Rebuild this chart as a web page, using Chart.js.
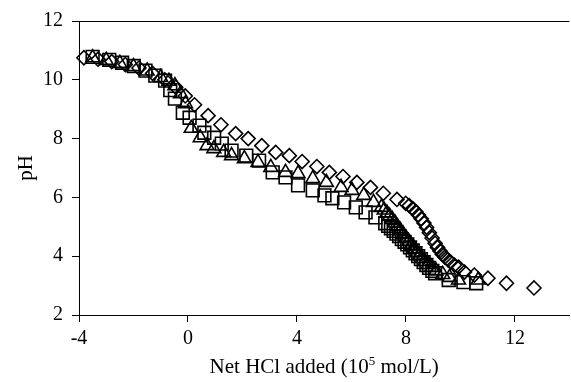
<!DOCTYPE html>
<html>
<head>
<meta charset="utf-8">
<script src="https://cdn.jsdelivr.net/npm/chart.js@4/dist/chart.umd.min.js"></script>
<style>
  html, body { margin: 0; padding: 0; background: #fff; overflow: hidden; }
  #canvas1 { width: 580px; height: 382px; }
</style>
</head>
<body>
<div id="canvas1"><canvas id="Graphique" width="580" height="382"></canvas></div>
<script>
/*
  Courbes de titrage : pH en fonction du HCl net ajouté (3 séries)
*/

// serie 1 : losanges
var diamondX = [-3.82, -3.3, -2.8, -2.3, -1.8, -1.3, -0.85, -0.45, -0.1, 0.24, 0.74, 1.21, 1.75, 2.21, 2.71, 3.22,
    3.72, 4.19, 4.73, 5.19, 5.69, 6.20, 6.70, 7.17, 7.67, 7.99, 8.12, 8.25, 8.36, 8.46, 8.56, 8.66, 8.76, 8.86, 8.96,
    9.07, 9.16, 9.25, 9.34, 9.43, 9.54, 9.64, 9.78, 9.93, 10.15, 10.51, 11.01, 11.69, 12.70];
var diamondY = [10.75, 10.7, 10.62, 10.52, 10.4, 10.22, 10.0, 9.75, 9.45, 9.15, 8.78, 8.47, 8.17, 8.0, 7.76, 7.53,
    7.42, 7.22, 7.05, 6.85, 6.71, 6.51, 6.34, 6.14, 5.93, 5.80, 5.72, 5.62, 5.52, 5.40, 5.27, 5.13, 4.98, 4.80, 4.62,
    4.44, 4.30, 4.18, 4.06, 3.97, 3.88, 3.80, 3.70, 3.63, 3.46, 3.36, 3.25, 3.08, 2.92];

// serie 2 : carrés
var squareX = [-3.5, -2.89, -2.42, -1.99, -1.56, -1.20, -0.84, -0.65, -0.48, -0.19, 0.06, 0.42, 0.60, 0.96, 1.24,
    1.60, 2.14, 2.61, 3.11, 3.58, 4.04, 4.58, 5.01, 5.30, 5.73, 6.16, 6.52, 6.88, 7.24, 7.35, 7.45, 7.55, 7.65, 7.75,
    7.85, 7.95, 8.05, 8.15, 8.25, 8.35, 8.45, 8.55, 8.65, 8.75, 8.85, 8.97, 9.07, 9.57, 10.11, 10.58];
var squareY = [10.78, 10.68, 10.58, 10.47, 10.31, 10.14, 9.97, 9.65, 9.36, 8.88, 8.71, 8.44, 8.20, 8.03, 7.83,
    7.59, 7.42, 7.25, 6.85, 6.68, 6.41, 6.24, 6.07, 5.97, 5.83, 5.66, 5.49, 5.32, 5.12, 5.03, 4.95, 4.86, 4.77, 4.68,
    4.58, 4.49, 4.40, 4.30, 4.20, 4.10, 4.00, 3.90, 3.80, 3.70, 3.60, 3.50, 3.42, 3.19, 3.12, 3.08];

// serie 3 : triangles
var triangleX = [-3.5, -3.0, -2.5, -2.0, -1.5, -1.0, -0.7, -0.48, -0.27, -0.09, 0.12, 0.45, 0.70, 0.95, 1.31, 1.6,
    2.07, 2.57, 3.04, 3.58, 4.04, 4.58, 5.08, 5.62, 6.02, 6.45, 6.81, 7.10, 7.2, 7.3, 7.4, 7.5, 7.6, 7.7, 7.8, 7.9,
    8.0, 8.1, 8.2, 8.3, 8.4, 8.5, 8.6, 8.7, 8.82, 8.95, 9.1, 9.35, 9.6, 9.93, 10.65];
var triangleY = [10.75, 10.66, 10.56, 10.45, 10.3, 10.08, 9.95, 9.80, 9.53, 9.19, 8.35, 8.03, 7.76, 7.66, 7.53, 7.42,
    7.32, 7.19, 7.02, 6.85, 6.81, 6.64, 6.51, 6.34, 6.24, 6.07, 5.83, 5.66, 5.57, 5.47, 5.36, 5.25, 5.13, 5.0, 4.88, 4.75,
    4.62, 4.50, 4.37, 4.25, 4.13, 4.02, 3.92, 3.82, 3.72, 3.62, 3.50, 3.38, 3.28, 3.19, 3.19];

// graduations
var xTicks = [-4, 0, 4, 8, 12];
var yTicks = [2, 4, 6, 8, 10, 12];

var policeTexte = "'Liberation Serif', 'Times New Roman', serif";

function points(xs, ys) {
    var res = [];
    for (var i = 0; i < xs.length; i++) {
        res.push({ x: xs[i], y: ys[i] });
    }
    return res;
}

// bordure du haut + titre de l'axe x avec l'exposant
var decor = {
    id: 'decor',
    afterDraw: function (chart) {
        var ctx = chart.ctx;
        var a = chart.chartArea;
        ctx.save();
        ctx.strokeStyle = '#000';
        ctx.lineWidth = 1;
        ctx.beginPath();
        ctx.moveTo(a.left, a.top + 0.5);
        ctx.lineTo(a.right, a.top + 0.5);
        ctx.stroke();

        var t1 = 'Net HCl added (10';
        var t2 = '5';
        var t3 = ' mol/L)';
        ctx.fillStyle = '#000';
        ctx.textBaseline = 'alphabetic';
        ctx.font = '21px ' + policeTexte;
        var w1 = ctx.measureText(t1).width;
        var w3 = ctx.measureText(t3).width;
        ctx.font = '13px ' + policeTexte;
        var w2 = ctx.measureText(t2).width;
        var x0 = (a.left + a.right) / 2 - (w1 + w2 + w3) / 2;
        var yb = 373;
        ctx.font = '21px ' + policeTexte;
        ctx.fillText(t1, x0, yb);
        ctx.font = '13px ' + policeTexte;
        ctx.fillText(t2, x0 + w1, yb - 8);
        ctx.font = '21px ' + policeTexte;
        ctx.fillText(t3, x0 + w1 + w2, yb);
        ctx.restore();
    }
};

var data = {
    datasets: [{
        label: 'serie 1',
        data: points(diamondX, diamondY),
        pointStyle: 'rectRot',
        pointRadius: 7,
        borderColor: '#000',
        backgroundColor: 'rgba(0,0,0,0)',
        borderWidth: 1.6,
        clip: false
    }, {
        label: 'serie 2',
        data: points(squareX, squareY),
        pointStyle: 'rect',
        pointRadius: 9,
        borderColor: '#000',
        backgroundColor: 'rgba(0,0,0,0)',
        borderWidth: 1.6,
        clip: false
    }, {
        label: 'serie 3',
        data: points(triangleX, triangleY),
        pointStyle: 'triangle',
        pointRadius: 8,
        borderColor: '#000',
        backgroundColor: 'rgba(0,0,0,0)',
        borderWidth: 1.6,
        clip: false
    }]
};

var option = {
    responsive: false,
    devicePixelRatio: 1,
    animation: false,
    layout: {
        padding: { top: 20, right: 0, bottom: 0, left: 0 }
    },
    plugins: {
        legend: { display: false },
        tooltip: { enabled: false }
    },
    scales: {
        x: {
            type: 'linear',
            min: -4,
            max: 14,
            afterBuildTicks: function (axis) {
                axis.ticks = xTicks.map(function (v) { return { value: v }; });
            },
            afterFit: function (scale) { scale.height = 67; },
            ticks: {
                color: '#000',
                padding: 5,
                maxRotation: 0,
                font: { family: policeTexte, size: 20 }
            },
            grid: {
                drawOnChartArea: false,
                color: '#000',
                tickLength: 7
            },
            border: { color: '#000', width: 1 }
        },
        y: {
            min: 2,
            max: 12,
            afterBuildTicks: function (axis) {
                axis.ticks = yTicks.map(function (v) { return { value: v }; });
            },
            afterFit: function (scale) { scale.width = 79; },
            ticks: {
                color: '#000',
                padding: 9,
                font: { family: policeTexte, size: 20 }
            },
            grid: {
                drawOnChartArea: false,
                color: '#000',
                tickLength: 7
            },
            border: { color: '#000', width: 1 },
            title: {
                display: true,
                text: 'pH',
                color: '#000',
                padding: { top: 14, bottom: 0 },
                font: { family: policeTexte, size: 21 }
            }
        }
    }
};

var chartObj = new Chart(document.getElementById('Graphique').getContext('2d'), {
    type: 'scatter',
    data: data,
    options: option,
    plugins: [decor]
});
</script>
</body>
</html>
